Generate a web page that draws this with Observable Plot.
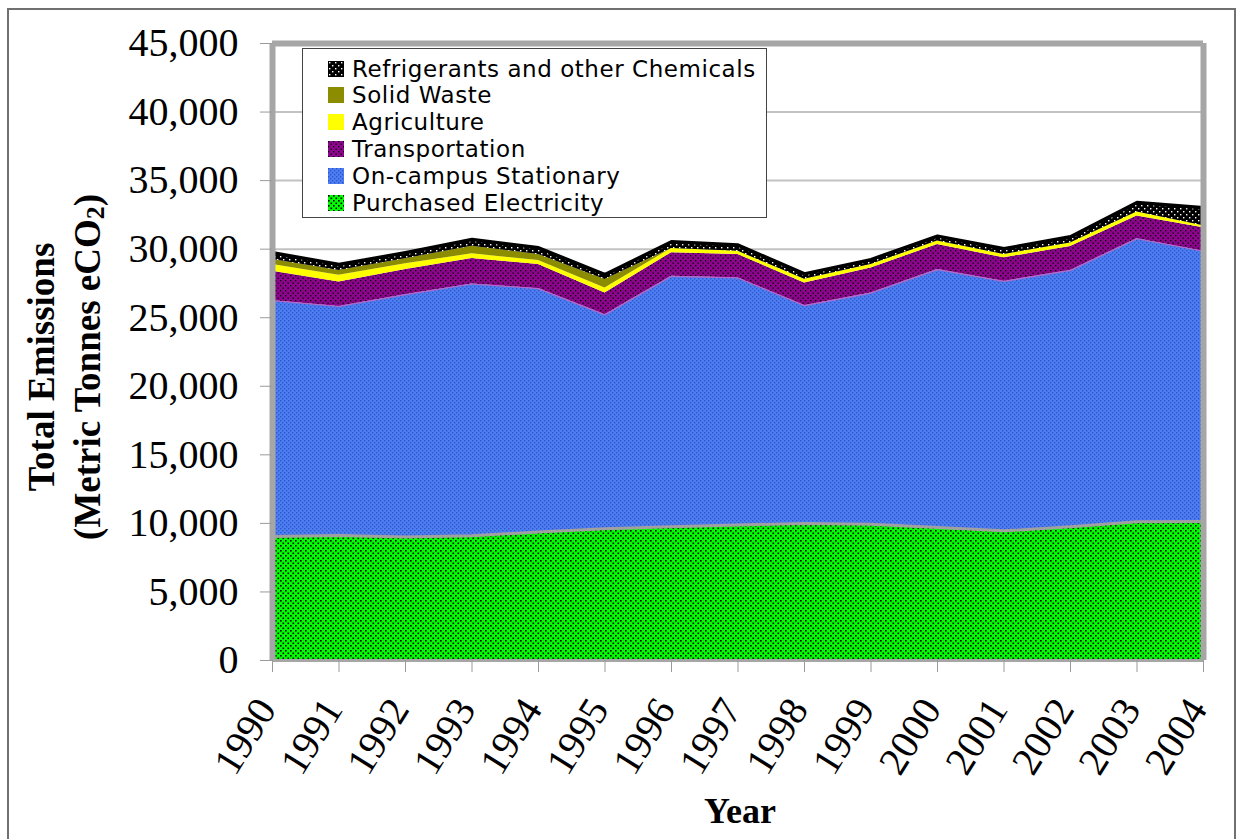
<!DOCTYPE html>
<html><head><meta charset="utf-8">
<script src="https://cdn.jsdelivr.net/npm/d3@7"></script>
<script src="https://cdn.jsdelivr.net/npm/@observablehq/plot@0.6"></script>
<style>
body{margin:0;background:#fff;}
#wrap{position:relative;width:1239px;height:839px;overflow:hidden;background:#fff;}
#frame{position:absolute;left:7px;top:8px;width:1229px;height:860px;border:2px solid #707070;box-sizing:border-box;}
#chart{position:absolute;left:0;top:0;}
#ytitle{position:absolute;left:-181px;top:317px;width:500px;text-align:center;transform:rotate(-90deg);font-family:"Liberation Serif";font-weight:bold;font-size:37px;line-height:46px;color:#000;}
#xtitle{position:absolute;left:640px;top:790px;width:200px;text-align:center;font-family:"Liberation Serif";font-weight:bold;font-size:36px;color:#000;}
#legend{position:absolute;left:302px;top:48px;width:465px;height:170px;border:1.5px solid #444;background:#fff;box-sizing:border-box;font-family:"DejaVu Sans";font-size:23px;letter-spacing:0.55px;color:#000;}
.row{position:absolute;left:25px;height:27px;display:flex;align-items:center;white-space:nowrap;}
.row svg{margin-right:8px;}
</style></head>
<body><div id="wrap"><div id="frame"></div><div id="chart"></div>
<div id="ytitle">Total Emissions<br>(Metric Tonnes eCO<sub style="font-size:0.7em;vertical-align:-0.15em">2</sub>)</div>
<div id="xtitle">Year</div>
<div id="legend"></div></div>
<script>
const years = [1990,1991,1992,1993,1994,1995,1996,1997,1998,1999,2000,2001,2002,2003,2004];
const electricity   = [9040,9110,9015,9090,9380,9600,9750,9890,9990,9945,9700,9455,9750,10115,10135];
const stationary    = [17200,16710,17665,18370,17740,15610,18270,18010,15890,16855,18810,18195,18700,20645,19715];
const transportation= [2150,1790,1830,1860,1760,1590,1720,1710,1660,1830,1830,1720,1750,1660,1710];
const agriculture   = [490,480,420,340,290,370,310,240,260,250,250,240,250,290,150];
const solidWaste    = [360,350,370,560,440,610,0,0,0,0,0,0,0,0,0];
const refrigerants  = [500,440,440,490,490,360,490,450,400,360,360,420,450,690,1310];
const seriesNames = ["Purchased Electricity","On-campus Stationary","Transportation","Agriculture","Solid Waste","Refrigerants and other Chemicals"];
const seriesValues = [electricity, stationary, transportation, agriculture, solidWaste, refrigerants];
const seriesFills = ["url(#pGreen)","url(#pBlue)","url(#pPurple)","#ffff00","#8c8c00","url(#pBlack)"];
const yTicks = [0,5000,10000,15000,20000,25000,30000,35000,40000,45000];

const rows = seriesNames.flatMap((s,i)=>years.map((yr,j)=>({year:yr, series:s, value:seriesValues[i][j]})));
const elecTop = years.map((yr,j)=>({year:yr, v:electricity[j]}));
const statTop = years.map((yr,j)=>({year:yr, v:electricity[j]+stationary[j]}));
const totalTop = years.map((yr,j)=>({year:yr, v:seriesValues.reduce((a,arr)=>a+arr[j],0)}));

const chart = Plot.plot({
  width:1239, height:839,
  marginLeft:272, marginRight:36, marginTop:43, marginBottom:179,
  style:{fontFamily:"Liberation Serif", background:"transparent", overflow:"visible"},
  x:{type:"linear", domain:[1990,2004]},
  y:{domain:[0,45000]},
  color:{domain:seriesNames, range:seriesFills},
  marks:[
    Plot.gridY(yTicks.slice(1,-1), {stroke:"#c2c2c2", strokeOpacity:1, strokeWidth:2}),
    Plot.areaY(rows, Plot.stackY({x:"year", y:"value", z:"series", fill:"series"})),
    Plot.lineY(statTop, {x:"year", y:"v", stroke:"#b46ac8", strokeWidth:1.2}),
    Plot.lineY(elecTop, {x:"year", y:"v", stroke:"#a0a0a0", strokeWidth:3}),
    Plot.lineY(totalTop, {x:"year", y:"v", stroke:"#000", strokeWidth:3.5}),
    Plot.ruleY([0], {stroke:"#a6a6a6", strokeWidth:3}),
    Plot.ruleY([45000], {stroke:"#a6a6a6", strokeWidth:6}),
    Plot.ruleX([1990,2004], {stroke:"#a6a6a6", strokeWidth:6}),
    Plot.axisY({ticks:yTicks, tickFormat:d3.format(","), tickSize:12, tickPadding:22, fontSize:40, stroke:"#9a9a9a", fill:"#000", label:null}),
    Plot.axisX({ticks:years, tickSize:12, text:null, stroke:"#9a9a9a", label:null}),
    Plot.axisX({ticks:years, tickFormat:d=>String(d), tickSize:0, tickPadding:42, tickRotate:-58, dx:-6, fontSize:40, fill:"#000", label:null})
  ]
});
document.getElementById("chart").appendChild(chart);

const defs = d3.select(chart).insert("defs", ":first-child");
function pat(id, w, bg, dots){
  const p = defs.append("pattern").attr("id", id).attr("patternUnits","userSpaceOnUse").attr("width", w).attr("height", w);
  p.append("rect").attr("width", w).attr("height", w).attr("fill", bg);
  dots.forEach(([x,y,s,c])=>p.append("rect").attr("x",x).attr("y",y).attr("width",s).attr("height",s).attr("fill",c));
}
pat("pGreen", 5, "#00ff00", [[0,0,1.6,"#000"],[2.5,2.5,1.6,"#000"]]);
pat("pBlue", 4, "#4d7ef4", [[0,0,1.4,"#2f56c4"],[2,2,1.4,"#2f56c4"]]);
pat("pPurple", 5, "#8c058c", [[0,0,1.3,"#000"],[2.5,2.5,1.3,"#000"]]);
pat("pBlack", 6, "#000", [[1,1,1.4,"#fff"],[4,4,1.4,"#fff"]]);

const legend = document.getElementById("legend");
const order = [5,4,3,2,1,0];
order.forEach((i,k)=>{
  const row = document.createElement("div");
  row.className = "row";
  row.style.top = (6 + k*26.8) + "px";
  row.innerHTML = `<svg width="16" height="16"><rect width="16" height="16" fill="${seriesFills[i]}"/></svg><span>${seriesNames[i]}</span>`;
  legend.appendChild(row);
});
</script>
</body></html>
